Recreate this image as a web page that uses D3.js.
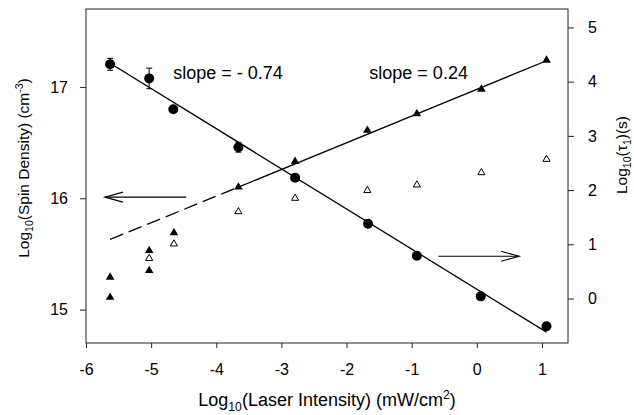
<!DOCTYPE html>
<html>
<head>
<meta charset="utf-8">
<script src="https://cdn.jsdelivr.net/npm/d3@7"></script>
<style>
  body { margin: 0; background: #fff; }
  svg { font-family: "Liberation Sans", Arial, Helvetica, sans-serif; }
</style>
</head>
<body>
<div id="chart"></div>
<script>
// tau1 (circles, right axis)
const tauX = [-5.63, -5.03, -4.66, -3.66, -2.79, -1.67, -0.92, 0.06, 1.07];
const tauLog = [4.32, 4.06, 3.49, 2.79, 2.23, 1.38, 0.79, 0.04, -0.51];
const tauErr = [0.11, 0.19, 0.05, 0.09, 0.04, 0, 0, 0, 0];

// spin density (triangles, left axis)
const spinX = [-5.63, -5.63, -5.03, -5.03, -4.65, -3.66, -2.79, -1.68, -0.92, 0.07, 1.07];
const spinFilled = [15.11, 15.29, 15.35, 15.53, 15.69, 16.10, 16.33, 16.61, 16.76, 16.98, 17.24];
const openX = [-5.03, -4.65, -3.66, -2.79, -1.68, -0.92, 0.07, 1.07];
const spinOpen = [15.46, 15.59, 15.88, 16.00, 16.07, 16.12, 16.23, 16.35];

// fitted lines
const tauFitX = [-5.63, 1.07];
const tauFitY = [4.34, -0.62];
const spinFitX = [-3.66, 1.07];
const spinFitY = [16.10, 17.235];
const spinDashX = [-5.63, -3.66];
const spinDashY = [15.63, 16.10];

const xTicks = [-6, -5, -4, -3, -2, -1, 0, 1];
const leftTicks = [15, 16, 17];
const rightTicks = [0, 1, 2, 3, 4, 5];

const W = 634, H = 415;
const margin = { top: 9, right: 66, bottom: 72, left: 86 };
const iw = W - margin.left - margin.right;
const ih = H - margin.top - margin.bottom;

const x = d3.scaleLinear().domain([-6, 1.4]).range([0, iw]);
const yL = d3.scaleLinear().domain([14.7, 17.7]).range([ih, 0]);
const yR = d3.scaleLinear().domain([-0.82, 5.34]).range([ih, 0]);

const svg = d3.select('#chart').append('svg')
  .attr('width', W).attr('height', H);
const g = svg.append('g')
  .attr('transform', 'translate(' + margin.left + ',' + margin.top + ')');

// axes
const fmt = d => String(d);
function styleAxis(sel) {
  sel.select('.domain').remove();
  sel.selectAll('line').attr('stroke', '#222');
  sel.selectAll('text').attr('fill', '#000').style('font-size', '16px');
}
g.append('g').attr('transform', 'translate(0,' + ih + ')')
  .call(d3.axisBottom(x).tickValues(xTicks).tickSize(5).tickPadding(16).tickFormat(fmt))
  .call(styleAxis);
g.append('g')
  .call(d3.axisLeft(yL).tickValues(leftTicks).tickSize(6).tickPadding(12).tickFormat(fmt))
  .call(styleAxis);
g.append('g').attr('transform', 'translate(' + iw + ',0)')
  .call(d3.axisRight(yR).tickValues(rightTicks).tickSize(6).tickPadding(14).tickFormat(fmt))
  .call(styleAxis);

// frame
g.append('rect').attr('width', iw).attr('height', ih)
  .attr('fill', 'none').attr('stroke', '#222').attr('stroke-width', 1);

// fit lines
const line = d3.line();
g.append('path')
  .attr('d', line(tauFitX.map((v, i) => [x(v), yR(tauFitY[i])])))
  .attr('fill', 'none').attr('stroke', '#000').attr('stroke-width', 1.3);
g.append('path')
  .attr('d', line(spinFitX.map((v, i) => [x(v), yL(spinFitY[i])])))
  .attr('fill', 'none').attr('stroke', '#000').attr('stroke-width', 1.3);
g.append('path')
  .attr('d', line(spinDashX.map((v, i) => [x(v), yL(spinDashY[i])])))
  .attr('fill', 'none').attr('stroke', '#000').attr('stroke-width', 1.3)
  .attr('stroke-dasharray', '14,6');

// error bars
const errs = tauX.map((v, i) => ({ x: v, y: tauLog[i], e: tauErr[i] })).filter(d => d.e > 0);
const eb = g.selectAll('.err').data(errs).enter().append('g').attr('class', 'err')
  .attr('stroke', '#000').attr('stroke-width', 1);
eb.append('line')
  .attr('x1', d => x(d.x)).attr('x2', d => x(d.x))
  .attr('y1', d => yR(d.y + d.e)).attr('y2', d => yR(d.y - d.e));
eb.append('line')
  .attr('x1', d => x(d.x) - 3).attr('x2', d => x(d.x) + 3)
  .attr('y1', d => yR(d.y + d.e)).attr('y2', d => yR(d.y + d.e));
eb.append('line')
  .attr('x1', d => x(d.x) - 3).attr('x2', d => x(d.x) + 3)
  .attr('y1', d => yR(d.y - d.e)).attr('y2', d => yR(d.y - d.e));

// circles
g.selectAll('.dot').data(tauX).enter().append('circle')
  .attr('class', 'dot')
  .attr('cx', d => x(d))
  .attr('cy', (d, i) => yR(tauLog[i]))
  .attr('r', 5)
  .attr('fill', '#000');

// triangles
const tri = d3.symbol().type(d3.symbolTriangle);
g.selectAll('.tri').data(spinX).enter().append('path')
  .attr('class', 'tri')
  .attr('d', tri.size(32)())
  .attr('transform', (d, i) => 'translate(' + x(d) + ',' + yL(spinFilled[i]) + ')')
  .attr('fill', '#000');
g.selectAll('.otri').data(openX).enter().append('path')
  .attr('class', 'otri')
  .attr('d', tri.size(22)())
  .attr('transform', (d, i) => 'translate(' + x(d) + ',' + yL(spinOpen[i]) + ')')
  .attr('fill', '#fff').attr('stroke', '#000').attr('stroke-width', 1);

// arrows
function arrow(x1, x2, yy, dir) {
  g.append('line').attr('x1', x1).attr('x2', x2).attr('y1', yy).attr('y2', yy)
    .attr('stroke', '#000').attr('stroke-width', 1.1);
  const tip = dir < 0 ? x1 : x2;
  g.append('path')
    .attr('d', 'M' + (tip - dir * 18) + ',' + (yy - 5) + 'L' + tip + ',' + yy + 'L' + (tip - dir * 18) + ',' + (yy + 5))
    .attr('fill', 'none').attr('stroke', '#000').attr('stroke-width', 1.1);
}
arrow(x(-5.71), x(-4.46), yL(16.01), -1);
arrow(x(-0.59), x(0.65), yR(0.78), 1);

// slope labels
g.append('text').attr('x', x(-4.66)).attr('y', yL(17.07))
  .style('font-size', '18px').text('slope = - 0.74');
g.append('text').attr('x', x(-1.65)).attr('y', yL(17.07))
  .style('font-size', '18px').text('slope = 0.24');

// axis titles
function subText(sel, parts, size) {
  parts.forEach(p => {
    const t = sel.append('tspan').text(p.t);
    if (p.sub) t.attr('dy', size * 0.25).style('font-size', (size * 0.68) + 'px');
    else if (p.sup) t.attr('dy', -size * 0.4).style('font-size', (size * 0.68) + 'px');
    if (p.back) t.attr('dy', p.back);
  });
}
const xt = svg.append('text').attr('x', 327).attr('y', 406)
  .attr('text-anchor', 'middle').style('font-size', '18px');
subText(xt, [
  { t: 'Log' }, { t: '10', sub: true }, { t: '(Laser Intensity) (mW/cm', back: -18 * 0.25 },
  { t: '2', sup: true }, { t: ')', back: 18 * 0.4 }
], 18);

const lt = svg.append('text').attr('transform', 'translate(29,168) rotate(-90)')
  .attr('text-anchor', 'middle').style('font-size', '15.5px');
subText(lt, [
  { t: 'Log' }, { t: '10', sub: true }, { t: '(Spin Density) (cm', back: -15.5 * 0.25 },
  { t: '-3', sup: true }, { t: ')', back: 15.5 * 0.4 }
], 15.5);

const rt = svg.append('text').attr('transform', 'translate(627,155) rotate(-90)')
  .attr('text-anchor', 'middle').style('font-size', '15.5px');
subText(rt, [
  { t: 'Log' }, { t: '10', sub: true }, { t: '(\u03c4', back: -15.5 * 0.25 },
  { t: '1', sub: true }, { t: ')(s)', back: -15.5 * 0.25 }
], 15.5);
</script>
</body>
</html>
